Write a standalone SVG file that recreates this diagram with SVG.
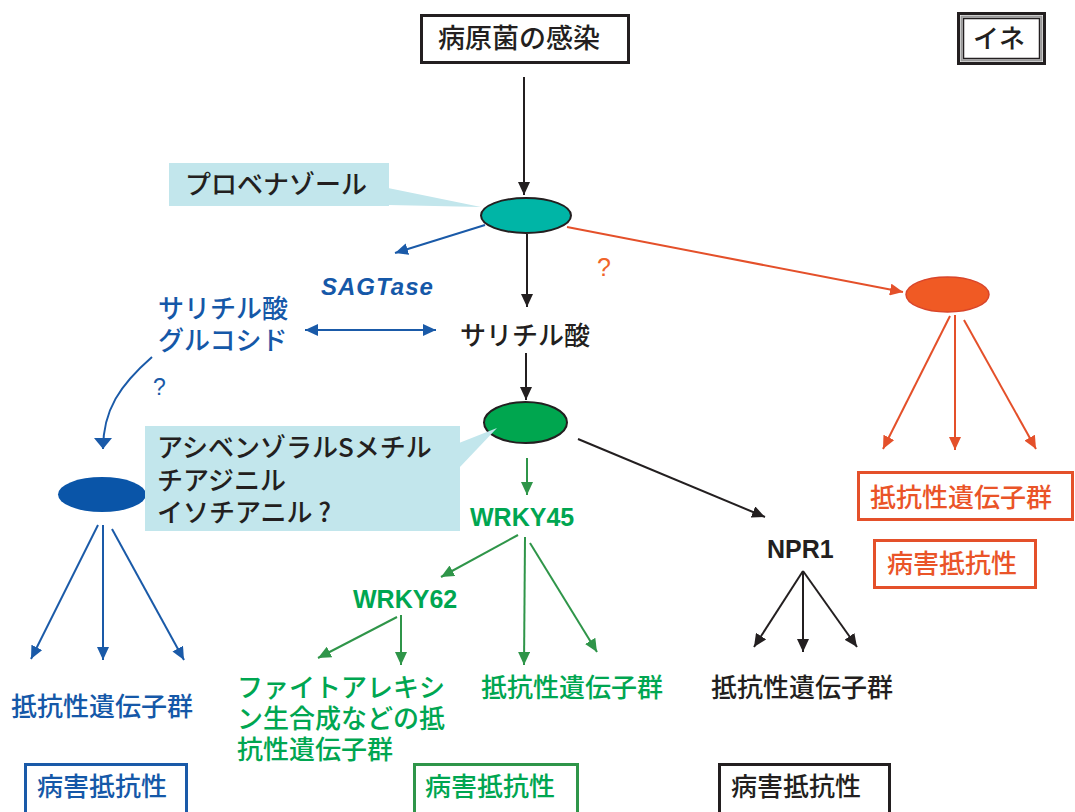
<svg xmlns="http://www.w3.org/2000/svg" width="1075" height="812" viewBox="0 0 1075 812">
<defs>
<style>
.jp{font-family:"Noto Sans CJK JP","Noto Sans CJK SC",sans-serif;font-size:26px;font-weight:500}
.lat{font-family:"Liberation Sans",Arial,sans-serif;font-weight:bold;font-size:25px}
.k{fill:#231f20}.b{fill:#1558a8}.g{fill:#00a651}.r{fill:#ea5428}
.ck{stroke:#231f20;stroke-width:2;fill:none}
.cb{stroke:#1a5aa8;stroke-width:2;fill:none}
.cg{stroke:#2f9549;stroke-width:2;fill:none}
.cr{stroke:#e4502a;stroke-width:2;fill:none}
.call{fill:#c2e6ec}
</style>
<marker id="ak" markerUnits="userSpaceOnUse" markerWidth="14" markerHeight="12" refX="13" refY="6" orient="auto"><path d="M0,0 L13,6 L0,12 z" fill="#231f20"/></marker>
<marker id="ab" markerUnits="userSpaceOnUse" markerWidth="14" markerHeight="12" refX="13" refY="6" orient="auto-start-reverse"><path d="M0,0 L13,6 L0,12 z" fill="#1a5aa8"/></marker>
<marker id="abw" markerUnits="userSpaceOnUse" markerWidth="12" markerHeight="18" refX="11" refY="9" orient="auto"><path d="M0,0 L11,9 L0,18 z" fill="#1a5aa8"/></marker>
<marker id="ag" markerUnits="userSpaceOnUse" markerWidth="14" markerHeight="12" refX="13" refY="6" orient="auto"><path d="M0,0 L13,6 L0,12 z" fill="#2f9549"/></marker>
<marker id="ar" markerUnits="userSpaceOnUse" markerWidth="14" markerHeight="12" refX="13" refY="6" orient="auto"><path d="M0,0 L13,6 L0,12 z" fill="#e4502a"/></marker>
</defs>
<rect width="1075" height="812" fill="#ffffff"/>

<g id="connectors">
<path class="ck" d="M524,77 L524,195" marker-end="url(#ak)"/>
<path class="ck" d="M527,234 L527,307" marker-end="url(#ak)"/>
<path class="ck" d="M526,353 L526,400" marker-end="url(#ak)"/>
<path class="ck" d="M578,439 L765,517" marker-end="url(#ak)"/>
<path class="ck" d="M803,571 L754,647" marker-end="url(#ak)"/>
<path class="ck" d="M803,571 L803,652" marker-end="url(#ak)"/>
<path class="ck" d="M803,571 L857,647" marker-end="url(#ak)"/>
<path class="cb" d="M485,225 L395,253" marker-end="url(#ab)"/>
<path class="cb" d="M305,330 L436,330" marker-start="url(#ab)" marker-end="url(#ab)"/>
<path class="cb" d="M152,357 C120,385 103,410 103,449" marker-end="url(#abw)"/>
<path class="cb" d="M98,525 L31,659" marker-end="url(#ab)"/>
<path class="cb" d="M103,525 L103,660" marker-end="url(#ab)"/>
<path class="cb" d="M112,529 L184,660" marker-end="url(#ab)"/>
<path class="cr" d="M567,227 L903,292" marker-end="url(#ar)"/>
<path class="cr" d="M950,316 L883,449" marker-end="url(#ar)"/>
<path class="cr" d="M955,315 L955,450" marker-end="url(#ar)"/>
<path class="cr" d="M964,320 L1036,449" marker-end="url(#ar)"/>
<path class="cg" d="M527,458 L527,495" marker-end="url(#ag)"/>
<path class="cg" d="M518,535 L441,577" marker-end="url(#ag)"/>
<path class="cg" d="M525,537 L524,665" marker-end="url(#ag)"/>
<path class="cg" d="M530,543 L597,652" marker-end="url(#ag)"/>
<path class="cg" d="M397,617 L318,658" marker-end="url(#ag)"/>
<path class="cg" d="M401,615 L401,665" marker-end="url(#ag)"/>
</g>

<g id="infection">
<rect x="421.5" y="15.5" width="207" height="47" fill="#fff" stroke="#231f20" stroke-width="3"/>
<text class="jp k" x="438" y="48" style="font-size:27px">病原菌の感染</text>
</g>

<g id="ine">
<rect x="958.5" y="13.5" width="86" height="50" fill="#fff" stroke="#231f20" stroke-width="3"/>
<rect x="961.5" y="16.5" width="80" height="44" fill="none" stroke="#9a9a9a" stroke-width="2"/>
<rect x="963.5" y="18.5" width="76" height="40" fill="none" stroke="#231f20" stroke-width="1.5"/>
<text class="jp k" x="973" y="48">イネ</text>
</g>

<g id="probenazole">
<rect class="call" x="169" y="163" width="220" height="43"/>
<polygon class="call" points="388,188 481,207 388,205"/>
<text class="jp k" x="185" y="194">プロベナゾール</text>
</g>

<g id="teal-node">
<ellipse cx="526" cy="215.5" rx="45" ry="17.5" fill="#00b5a6" stroke="#231f20" stroke-width="2"/>
</g>

<g id="sagtase">
<text class="lat b" x="321" y="295" style="font-style:italic;font-size:24px;letter-spacing:1px">SAGTase</text>
</g>

<g id="q-orange"><text x="597" y="276" style="font-family:'Liberation Sans',Arial,sans-serif;font-size:25px;fill:#f0642a">?</text></g>

<g id="red-node">
<ellipse cx="947.5" cy="294.5" rx="41.5" ry="17.5" fill="#f05a24" stroke="#d9452a" stroke-width="1.5"/>
</g>

<g id="sag">
<text class="jp b" x="158" y="318">サリチル酸</text>
<text class="jp b" x="158" y="350">グルコシド</text>
</g>

<g id="q-blue"><text x="153" y="395" style="font-family:'Liberation Sans',Arial,sans-serif;font-size:23px;fill:#1a5aa8">?</text></g>

<g id="sa">
<text class="jp k" x="460" y="345">サリチル酸</text>
</g>

<g id="blue-node">
<ellipse cx="102" cy="494.5" rx="44" ry="17.5" fill="#0a55a8"/>
</g>

<g id="green-node">
<ellipse cx="525.5" cy="422.5" rx="41.5" ry="20.5" fill="#00a64f" stroke="#231f20" stroke-width="2"/>
</g>

<g id="asm">
<rect class="call" x="145" y="426" width="315" height="105"/>
<polygon class="call" points="459,443 497,428 459,468"/>
<text class="jp k" x="157" y="457">アシベンゾラルSメチル</text>
<text class="jp k" x="157" y="490">チアジニル</text>
<text class="jp k" x="157" y="522">イソチアニル ?</text>
</g>

<g id="wrky45"><text class="lat g" x="470" y="526">WRKY45</text></g>
<g id="wrky62"><text class="lat g" x="353" y="608">WRKY62</text></g>
<g id="npr1"><text class="lat k" x="767" y="558">NPR1</text></g>

<g id="red-genes">
<rect x="858.5" y="472.5" width="214" height="47" fill="#fff" stroke="#e4502a" stroke-width="3"/>
<text class="jp r" x="870" y="507">抵抗性遺伝子群</text>
</g>
<g id="red-resist">
<rect x="874.5" y="540.5" width="161" height="47" fill="#fff" stroke="#e4502a" stroke-width="3"/>
<text class="jp r" x="887" y="573">病害抵抗性</text>
</g>

<g id="blue-genes"><text class="jp b" x="11" y="716">抵抗性遺伝子群</text></g>
<g id="phyto-genes">
<text class="jp g" x="237" y="697">ファイトアレキシ</text>
<text class="jp g" x="237" y="728">ン生合成などの抵</text>
<text class="jp g" x="237" y="759">抗性遺伝子群</text>
</g>
<g id="green-genes"><text class="jp g" x="481" y="697">抵抗性遺伝子群</text></g>
<g id="black-genes"><text class="jp k" x="711" y="697">抵抗性遺伝子群</text></g>

<g id="blue-resist">
<rect x="25.5" y="764.5" width="161" height="52" fill="#fff" stroke="#1a5aa8" stroke-width="3"/>
<text class="jp b" x="37" y="796">病害抵抗性</text>
</g>
<g id="green-resist">
<rect x="414.5" y="764.5" width="163" height="52" fill="#fff" stroke="#2f9549" stroke-width="3"/>
<text class="jp g" x="425" y="796">病害抵抗性</text>
</g>
<g id="black-resist">
<rect x="719.5" y="764.5" width="170" height="52" fill="#fff" stroke="#231f20" stroke-width="3"/>
<text class="jp k" x="731" y="796">病害抵抗性</text>
</g>
</svg>
